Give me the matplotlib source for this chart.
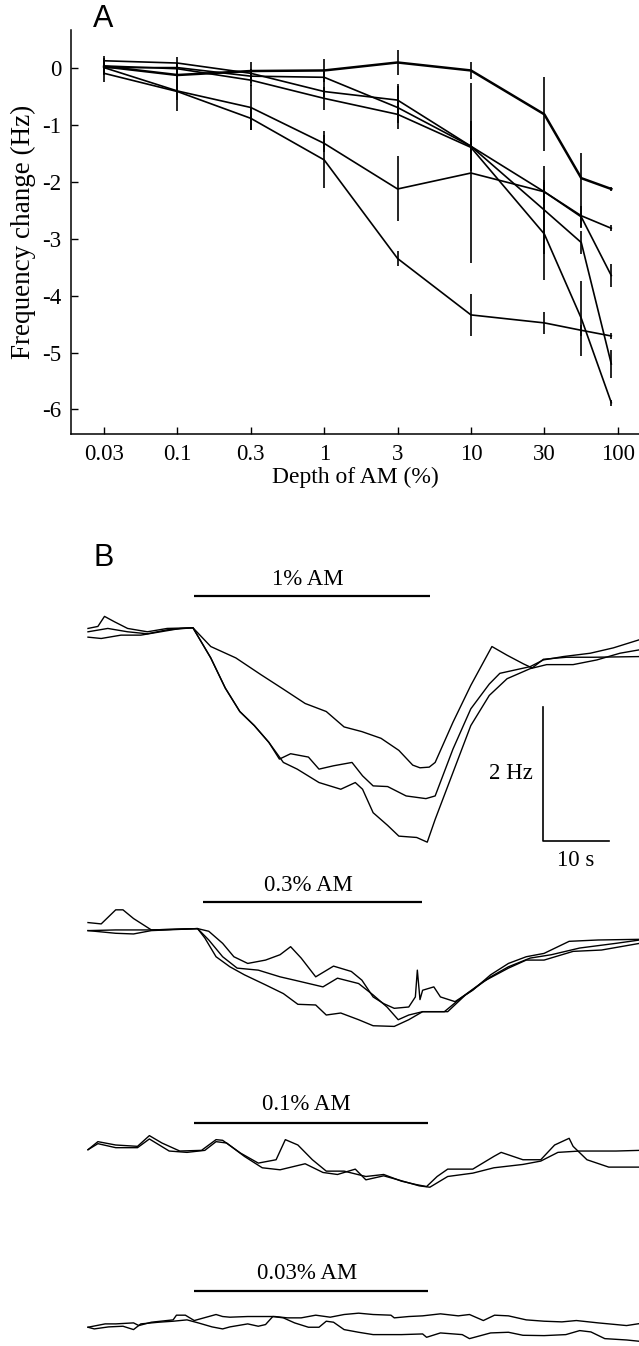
import numpy as np
import matplotlib
matplotlib.use('Agg')
import matplotlib.pyplot as plt

plt.rcParams['font.family'] = ['Liberation Serif', 'DejaVu Serif']
plt.rcParams['axes.unicode_minus'] = False

# ---------------- panel A data ----------------
depth = [0.03, 0.1, 0.3, 1, 3, 10, 30, 55, 90]
tick_depths = [0.03, 0.1, 0.3, 1, 3, 10, 30, 100]
tick_labels = ['0.03', '0.1', '0.3', '1', '3', '10', '30', '100']

curve_top = [0.02, -0.13, -0.06, -0.05, 0.09, -0.05, -0.82, -1.94, -2.13]
err_top = [0.15, 0.12, 0.15, 0.2, 0.22, 0.15, 0.65, 0.45, 0.03]
curve_a = [0.12, 0.08, -0.10, -0.42, -0.57, -1.38, -2.18, -2.62, -3.65]
err_a = [0.08, 0.1, 0.08, 0.1, 0.28, 0.15, 0.18, 0.2, 0.2]
curve_b = [0.0, 0.0, -0.15, -0.17, -0.70, -1.38, -2.50, -3.07, -5.20]
err_b = [0.1, 0.08, 0.12, 0.15, 0.37, 0.44, 0.77, 0.2, 0.25]
curve_c = [0.03, -0.02, -0.22, -0.54, -0.82, -1.40, -2.92, -4.40, -5.88]
err_c = [0.1, 0.1, 0.1, 0.2, 0.15, 0.1, 0.8, 0.66, 0.05]
curve_d = [0.0, -0.41, -0.70, -1.33, -2.13, -1.85, -2.18, -2.60, -2.82]
err_d = [0.1, 0.15, 0.39, 0.15, 0.57, 1.58, 0.2, 0.2, 0.05]
curve_e = [-0.10, -0.42, -0.89, -1.62, -3.35, -4.34, -4.48, -4.61, -4.71]
err_e = [0.15, 0.34, 0.2, 0.5, 0.13, 0.37, 0.19, 0.1, 0.06]

# ---------------- panel B data (time s, change Hz) ----------------
t_1a = [0, 2, 5, 8, 11, 14, 15.9, 18.6, 22.4, 26.2, 29.5, 32.9, 36.1, 38.8, 41.5, 44.4, 47.1, 49.2, 50.3, 51.7,
        52.6, 55.3, 58.0, 61.2, 63.5, 66.0, 67.3, 69.0, 72.5, 76.6, 83.5]
v_1a = [-0.08, -0.1, -0.05, -0.05, 0.0, 0.05, 0.06, -0.22, -0.39, -0.64, -0.85, -1.07, -1.19, -1.42, -1.49, -1.59,
        -1.77, -1.99, -2.03, -2.02, -1.95, -1.35, -0.80, -0.22, -0.35, -0.48, -0.54, -0.41, -0.38, -0.38, -0.37]
t_1b = [0, 1.5, 2.5, 4, 6, 9, 12, 15.9, 18.6, 20.8, 23.0, 25.2, 27.4, 29.0, 30.7, 33.4, 35.0, 37.2, 40.0, 41.6,
        43.2, 45.4, 48.2, 51.2, 52.6, 55.3, 58.0, 60.8, 62.4, 67.0, 69.0, 72.0, 76.1, 79.6, 83.5]
v_1b = [0.05, 0.08, 0.23, 0.15, 0.05, 0.0, 0.05, 0.06, -0.39, -0.84, -1.19, -1.40, -1.65, -1.90, -1.82, -1.87,
        -2.05, -2.0, -1.95, -2.15, -2.30, -2.31, -2.45, -2.49, -2.45, -1.75, -1.15, -0.78, -0.62, -0.52, -0.42,
        -0.37, -0.32, -0.24, -0.12]
t_1c = [0, 3, 6, 9, 12, 15.9, 18.6, 20.8, 23.0, 25.2, 27.4, 29.6, 31.7, 35.0, 38.3, 40.5, 41.6, 43.2, 45.4, 47.1,
        49.8, 51.4, 52.6, 55.3, 58.0, 60.8, 63.5, 67.0, 69.5, 73.5, 77.1, 80.6, 83.5]
v_1c = [0.0, 0.05, 0.0, -0.03, 0.03, 0.06, -0.39, -0.84, -1.19, -1.40, -1.65, -1.95, -2.05, -2.25, -2.35, -2.25,
        -2.35, -2.70, -2.89, -3.05, -3.07, -3.14, -2.8, -2.1, -1.40, -0.95, -0.70, -0.55, -0.49, -0.49, -0.42,
        -0.32, -0.27]

t_3a = [0, 2.0, 4.2, 5.3, 6.9, 9.6, 16.6, 18.3, 20.4, 22.1, 24.2, 26.9, 29.1, 30.7, 32.3, 34.5, 37.2, 39.9, 41.5,
        43.2, 44.8, 46.4, 48.6, 49.6, 49.9, 50.3, 50.7, 52.4, 53.4, 55.6, 58.3, 61.0, 63.7, 66.4, 69.1, 72.9, 77.3, 83.6]
v_3a = [0.11, 0.09, 0.30, 0.30, 0.17, 0.0, 0.02, -0.02, -0.20, -0.40, -0.50, -0.45, -0.37, -0.25, -0.42, -0.70,
        -0.54, -0.62, -0.75, -1.0, -1.10, -1.17, -1.15, -1.0, -0.60, -1.04, -0.90, -0.85, -1.0, -1.07, -0.90, -0.67,
        -0.50, -0.40, -0.35, -0.17, -0.15, -0.14]
t_3b = [0, 4.2, 9.6, 16.6, 18.3, 20.4, 22.6, 25.8, 29.1, 31.3, 35.6, 37.8, 41.0, 43.2, 45.3, 47.0, 48.6, 50.7, 54.5,
        57.2, 61.0, 63.7, 67.0, 70.2, 74.5, 80.0, 83.6]
v_3b = [-0.01, 0.0, 0.0, 0.02, -0.15, -0.40, -0.57, -0.60, -0.70, -0.75, -0.85, -0.72, -0.80, -0.97, -1.15, -1.34,
        -1.27, -1.22, -1.22, -0.97, -0.70, -0.55, -0.42, -0.37, -0.27, -0.20, -0.15]
t_3c = [0, 4.2, 6.9, 9.6, 16.6, 17.7, 19.4, 21.5, 23.7, 26.9, 29.6, 31.8, 34.5, 36.1, 38.3, 41.0, 43.2, 46.4, 48.6,
        50.7, 54.0, 56.7, 59.9, 63.7, 66.4, 69.1, 73.5, 77.8, 83.6]
v_3c = [-0.01, -0.05, -0.06, -0.01, 0.02, -0.12, -0.40, -0.55, -0.67, -0.82, -0.95, -1.11, -1.12, -1.27, -1.24,
        -1.34, -1.43, -1.44, -1.34, -1.22, -1.22, -1.0, -0.77, -0.57, -0.45, -0.45, -0.32, -0.30, -0.20]

t_01a = [0, 1.5, 4.2, 7.5, 9.3, 11.2, 13.9, 17.2, 19.4, 20.4, 23.1, 25.8, 28.5, 29.9, 31.8, 34.0, 36.1, 38.8, 42.1,
         44.8, 47.5, 49.7, 51.3, 52.9, 54.5, 58.3, 61.5, 62.6, 65.9, 68.6, 70.7, 72.9, 73.5, 75.6, 78.9, 83.6]
v_01a = [-0.05, 0.07, 0.02, 0.0, 0.16, 0.05, -0.07, -0.06, 0.10, 0.09, -0.10, -0.25, -0.20, 0.10, 0.02, -0.20,
         -0.37, -0.37, -0.45, -0.42, -0.52, -0.57, -0.60, -0.45, -0.34, -0.34, -0.15, -0.09, -0.20, -0.20, 0.02,
         0.12, 0.0, -0.20, -0.31, -0.31]
t_01b = [0, 1.5, 4.2, 7.5, 9.3, 12.3, 15.0, 17.7, 19.4, 21.0, 23.7, 26.4, 29.1, 32.9, 35.6, 37.8, 40.5, 42.1, 44.8,
         47.0, 50.2, 51.8, 54.5, 58.3, 61.5, 65.9, 68.6, 71.2, 74.5, 80.0, 83.6]
v_01b = [-0.05, 0.04, -0.02, -0.02, 0.11, -0.07, -0.09, -0.06, 0.07, 0.05, -0.15, -0.32, -0.35, -0.26, -0.39,
         -0.42, -0.34, -0.50, -0.44, -0.50, -0.59, -0.61, -0.45, -0.40, -0.32, -0.27, -0.22, -0.09, -0.07, -0.07, -0.06]

t_003a = [0, 2.6, 4.2, 6.9, 7.7, 9.6, 12.9, 13.4, 14.75, 16.1, 18.3, 19.4, 20.4, 21.5, 24.2, 26.9, 28.3, 30.2, 32.3,
          34.5, 36.7, 38.8, 41.0, 43.2, 45.9, 46.4, 48.6, 50.7, 53.4, 56.1, 57.8, 59.9, 61.6, 63.7, 66.4, 69.1,
          71.8, 74.0, 77.3, 80.0, 81.6, 83.6]
v_003a = [0.01, 0.06, 0.06, 0.075, 0.035, 0.085, 0.12, 0.19, 0.19, 0.11, 0.17, 0.20, 0.17, 0.16, 0.17, 0.17, 0.17,
          0.15, 0.15, 0.19, 0.16, 0.20, 0.22, 0.20, 0.19, 0.15, 0.17, 0.18, 0.21, 0.18, 0.20, 0.11, 0.19, 0.18,
          0.12, 0.10, 0.09, 0.11, 0.075, 0.05, 0.035, 0.065]
t_003b = [0, 0.95, 3.1, 5.3, 6.9, 8.0, 10.7, 12.9, 15.0, 16.7, 18.8, 20.4, 21.5, 24.2, 25.8, 26.9, 28.0, 29.6, 31.3,
          33.4, 35.0, 36.1, 37.2, 38.8, 41.0, 43.2, 47.5, 50.7, 51.3, 53.4, 56.7, 57.8, 61.0, 63.7, 65.9, 69.1,
          72.4, 74.5, 76.2, 78.3, 81.6, 83.6]
v_003b = [0.01, -0.015, 0.015, 0.025, -0.025, 0.06, 0.085, 0.10, 0.12, 0.075, 0.015, -0.015, 0.015, 0.06, 0.025,
          0.05, 0.17, 0.15, 0.075, 0.01, 0.01, 0.10, 0.085, -0.025, -0.065, -0.10, -0.10, -0.09, -0.14, -0.075,
          -0.10, -0.16, -0.075, -0.065, -0.11, -0.115, -0.10, -0.04, -0.06, -0.16, -0.18, -0.20]

cond_labels = ['1% AM', '0.3% AM', '0.1% AM', '0.03% AM']
cond_traces = [[(t_1a, v_1a), (t_1b, v_1b), (t_1c, v_1c)],
               [(t_3a, v_3a), (t_3b, v_3b), (t_3c, v_3c)],
               [(t_01a, v_01a), (t_01b, v_01b)],
               [(t_003a, v_003a), (t_003b, v_003b)]]
stim_on = [16.0, 17.4, 16.0, 16.0]
stim_off = [51.8, 50.6, 51.5, 51.5]

# layout of panel B (Hz offsets of each block, bar / label heights above baseline)
offsets = [0.0, -4.45, -7.68, -10.39]
bar_h = [0.54, 0.42, 0.35, 0.55]
lab_h = [0.78, 0.67, 0.62, 0.81]

# depth axis: ticks equally spaced, log between ticks
LT = np.log10(tick_depths)
IDX = np.arange(len(LT))


def fwd(x):
    lx = np.log10(np.clip(np.asarray(x, float), 1e-9, None))
    i = np.interp(lx, LT, IDX)
    i = np.where(lx < LT[0], (lx - LT[0]) / (LT[1] - LT[0]), i)
    i = np.where(lx > LT[-1], IDX[-1] + (lx - LT[-1]) / (LT[-1] - LT[-2]), i)
    return i


def inv(i):
    i = np.asarray(i, float)
    lx = np.interp(i, IDX, LT)
    lx = np.where(i < 0, LT[0] + i * (LT[1] - LT[0]), lx)
    lx = np.where(i > IDX[-1], LT[-1] + (i - IDX[-1]) * (LT[-1] - LT[-2]), lx)
    return 10 ** lx


fig = plt.figure(figsize=(6.39, 13.46), dpi=100)

ax = fig.add_axes([71 / 639, 1 - 434 / 1346, 1 - 71 / 639, (434 - 30) / 1346])
ax.set_xscale('function', functions=(fwd, inv))
curves = [(curve_top, err_top, 1.8), (curve_a, err_a, 1.2), (curve_b, err_b, 1.2),
          (curve_c, err_c, 1.2), (curve_d, err_d, 1.2), (curve_e, err_e, 1.2)]
for vals, errs, lw in curves:
    ax.errorbar(depth, vals, yerr=errs, color='k', lw=lw, elinewidth=1.2, capsize=0)
ax.set_xlim(inv(-0.45), inv(7.29))
ax.set_ylim(-6.43, 0.66)
ax.set_xticks(tick_depths)
ax.set_xticklabels(tick_labels)
ax.xaxis.set_minor_locator(matplotlib.ticker.NullLocator())
ax.set_yticks([0, -1, -2, -3, -4, -5, -6])
ax.set_yticklabels(['0', '-1', '-2', '-3', '-4', '-5', '-6'])
ax.tick_params(direction='in', length=5, width=1, labelsize=16.5, pad=7)
for s in ['top', 'right']:
    ax.spines[s].set_visible(False)
for s in ['left', 'bottom']:
    ax.spines[s].set_linewidth(1.1)
ax.set_xlabel('Depth of AM (%)', fontsize=17, labelpad=1.5)
ax.set_ylabel('Frequency change (Hz)', fontsize=19.5, labelpad=4)

fig.text(93 / 639, 1 - 27 / 1346, 'A', family=['Liberation Sans'], fontsize=22)
fig.text(93 / 639, 1 - 566 / 1346, 'B', family=['Liberation Sans'], fontsize=22)

# panel B
axb = fig.add_axes([0, 0, 1, 806 / 1346])
axb.axis('off')
axb.set_xlim(-88 / 6.6, 551 / 6.6)
axb.set_ylim(-10.66, 1.37)
for k in range(4):
    off = offsets[k]
    for t, v in cond_traces[k]:
        axb.plot(t, np.array(v) + off, color='k', lw=1.0)
    axb.plot([stim_on[k], stim_off[k]], [off + bar_h[k]] * 2, color='k', lw=1.6, solid_capstyle='butt')
    axb.text((stim_on[k] + stim_off[k]) / 2 - 0.6, off + lab_h[k], cond_labels[k],
             ha='center', va='center', fontsize=16.5)

# scale bar
sb_t, sb_hz = 10, 2
sb_x0, sb_y0 = 68.9, -3.12
axb.plot([sb_x0, sb_x0, sb_x0 + sb_t], [sb_y0 + sb_hz, sb_y0, sb_y0], color='k', lw=1.2)
axb.text(sb_x0 - 1.5, sb_y0 + sb_hz / 2, '2 Hz', ha='right', va='center', fontsize=16.5)
axb.text(sb_x0 + sb_t / 2, sb_y0 - 0.3, '10 s', ha='center', va='center', fontsize=16.5)

fig.savefig('out.png', dpi=100)
